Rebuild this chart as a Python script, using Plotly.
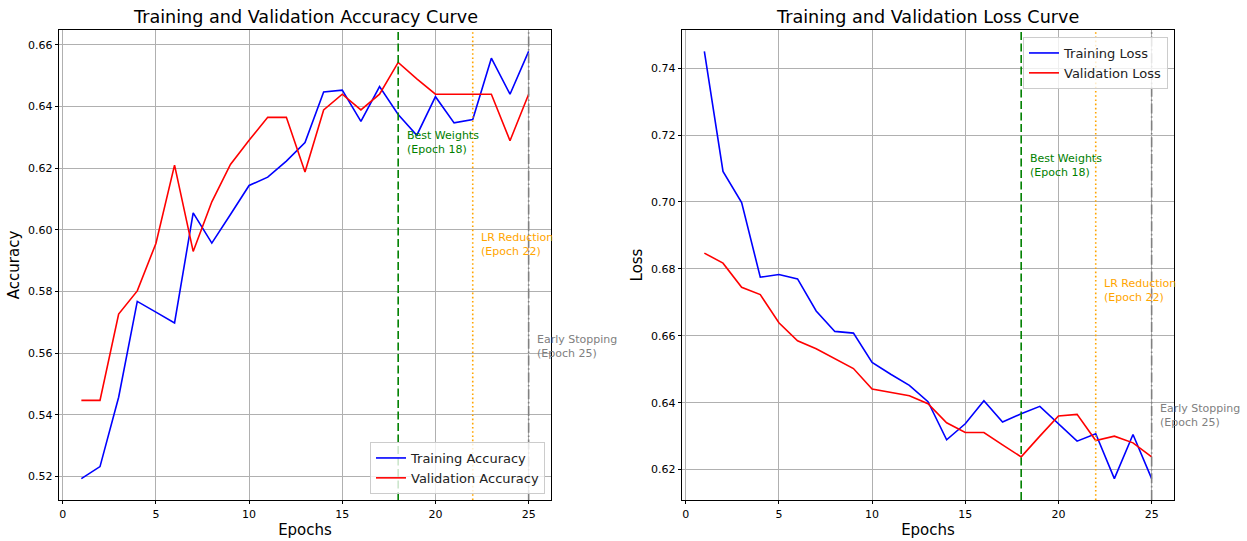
import plotly.graph_objects as go

# ---------------- data ----------------
epochs = list(range(1, 26))
train_acc = [0.5193, 0.5232, 0.5457, 0.5768, 0.5733, 0.5698, 0.6055, 0.5957, 0.6050, 0.6144,
             0.6171, 0.6223, 0.6283, 0.6447, 0.6453, 0.6352, 0.6465, 0.6374, 0.6307, 0.6432,
             0.6347, 0.6358, 0.6557, 0.6440, 0.6579]
val_acc = [0.5447, 0.5447, 0.5727, 0.5802, 0.5956, 0.6210, 0.5930, 0.6091, 0.6212, 0.6291,
           0.6365, 0.6365, 0.6188, 0.6389, 0.6440, 0.6389, 0.6440, 0.6543, 0.6490, 0.6440,
           0.6440, 0.6440, 0.6440, 0.6289, 0.6440]
train_loss = [0.7450, 0.7091, 0.6998, 0.6775, 0.6783, 0.6770, 0.6674, 0.6613, 0.6608, 0.6520,
              0.6485, 0.6452, 0.6403, 0.6289, 0.6337, 0.6406, 0.6342, 0.6367, 0.6389, 0.6337,
              0.6285, 0.6307, 0.6173, 0.6305, 0.6173]
val_loss = [0.6847, 0.6817, 0.6745, 0.6723, 0.6639, 0.6585, 0.6561, 0.6531, 0.6502, 0.6441,
            0.6430, 0.6421, 0.6397, 0.6340, 0.6311, 0.6311, 0.6274, 0.6238, 0.6300, 0.6360,
            0.6365, 0.6287, 0.6300, 0.6280, 0.6238]
best_epoch = 18
lr_epoch = 22
stop_epoch = 25
acc_ticks = [0.52, 0.54, 0.56, 0.58, 0.60, 0.62, 0.64, 0.66]
loss_ticks = [0.62, 0.64, 0.66, 0.68, 0.70, 0.72, 0.74]
x_ticks = [0, 5, 10, 15, 20, 25]

# annotation vertical positions (data units)
acc_text_y = [0.6282, 0.5952, 0.5621]
loss_text_y = [0.7108, 0.6735, 0.6361]

FONT = "DejaVu Sans"
W, H = 1247, 541
ML, MR, MT, MB = 59, W - 1174, 30, 41
PW = W - ML - MR
PH = H - MT - MB


def padded(vals, frac=0.05):
    lo, hi = min(vals), max(vals)
    p = (hi - lo) * frac
    return [lo - p, hi + p]


fig = go.Figure()

fig.add_trace(go.Scatter(x=epochs, y=train_acc, mode="lines", name="Training Accuracy",
                         line=dict(color="blue", width=1.6), xaxis="x", yaxis="y", legend="legend"))
fig.add_trace(go.Scatter(x=epochs, y=val_acc, mode="lines", name="Validation Accuracy",
                         line=dict(color="red", width=1.6), xaxis="x", yaxis="y", legend="legend"))
fig.add_trace(go.Scatter(x=epochs, y=train_loss, mode="lines", name="Training Loss",
                         line=dict(color="blue", width=1.6), xaxis="x2", yaxis="y2", legend="legend2"))
fig.add_trace(go.Scatter(x=epochs, y=val_loss, mode="lines", name="Validation Loss",
                         line=dict(color="red", width=1.6), xaxis="x2", yaxis="y2", legend="legend2"))

markers = [
    (best_epoch, "green", "8px,3.5px", "Best Weights<br>(Epoch %d)" % best_epoch),
    (lr_epoch, "orange", "1.6px,2.6px", "LR Reduction<br>(Epoch %d)" % lr_epoch),
    (stop_epoch, "gray", "10px,2.6px,1.6px,2.6px", "Early Stopping<br>(Epoch %d)" % stop_epoch),
]

shapes = []
annotations = []
for (xr, yr, ys) in [("x", "y", acc_text_y), ("x2", "y2", loss_text_y)]:
    for (ep, col, dash, txt), ty in zip(markers, ys):
        shapes.append(dict(type="line", xref=xr, yref=yr + " domain", x0=ep, x1=ep, y0=0, y1=1,
                           line=dict(color=col, width=1.6, dash=dash), layer="above"))
        annotations.append(dict(x=ep + 0.5, y=ty, xref=xr, yref=yr, text=txt, showarrow=False,
                                xanchor="left", yanchor="middle", align="left", xshift=-3,
                                font=dict(family=FONT, size=11, color=col)))

# domains (pixel -> fraction of plot area)
l_dom = [(59 - ML) / PW, (551 - ML) / PW]
r_dom = [(682 - ML) / PW, (1174 - ML) / PW]
for dom, t in [(l_dom, "Training and Validation Accuracy Curve"),
               (r_dom, "Training and Validation Loss Curve")]:
    annotations.append(dict(x=(dom[0] + dom[1]) / 2, y=1, xref="paper", yref="paper", text=t,
                            showarrow=False, xanchor="center", yanchor="bottom", yshift=1,
                            font=dict(family=FONT, size=17.6, color="black")))

axis_common = dict(showgrid=True, gridcolor="#b0b0b0", gridwidth=0.8, zeroline=False,
                   showline=True, mirror=True, linecolor="black", linewidth=0.8,
                   ticks="outside", ticklen=3.5, tickwidth=0.8, tickcolor="black", automargin=False,
                   tickfont=dict(family=FONT, size=11, color="black"))

fig.update_layout(
    width=W, height=H,
    margin=dict(l=ML, r=MR, t=MT, b=MB, autoexpand=False),
    paper_bgcolor="white", plot_bgcolor="white",
    font=dict(family=FONT, color="black"),
    xaxis=dict(domain=l_dom, range=padded(epochs), tickvals=x_ticks, anchor="y",
               title=dict(text="Epochs", font=dict(family=FONT, size=15), standoff=4), **axis_common),
    yaxis=dict(domain=[0, 1], range=padded(train_acc + val_acc), tickvals=acc_ticks, tickformat=".2f",
               anchor="x",
               title=dict(text="Accuracy", font=dict(family=FONT, size=15), standoff=4), **axis_common),
    xaxis2=dict(domain=r_dom, range=padded(epochs), tickvals=x_ticks, anchor="y2",
                title=dict(text="Epochs", font=dict(family=FONT, size=15), standoff=4), **axis_common),
    yaxis2=dict(domain=[0, 1], range=padded(train_loss + val_loss), tickvals=loss_ticks, tickformat=".2f",
                anchor="x2",
                title=dict(text="Loss", font=dict(family=FONT, size=15), standoff=4), **axis_common),
    legend=dict(x=(545 - ML) / PW, y=(500 - 494) / PH, xanchor="right", yanchor="bottom",
                bgcolor="rgba(255,255,255,0.8)", bordercolor="#cccccc", borderwidth=1,
                font=dict(family=FONT, size=13, color="#222222")),
    legend2=dict(x=(1168 - ML) / PW, y=(500 - 37) / PH, xanchor="right", yanchor="top",
                 bgcolor="rgba(255,255,255,0.8)", bordercolor="#cccccc", borderwidth=1,
                 font=dict(family=FONT, size=13, color="#222222")),
    shapes=shapes,
    annotations=annotations,
    showlegend=True,
)

fig.write_html("out.html", config={"displayModeBar": False},
               post_script="document.body.style.margin='0px';document.body.style.overflow='hidden';")
